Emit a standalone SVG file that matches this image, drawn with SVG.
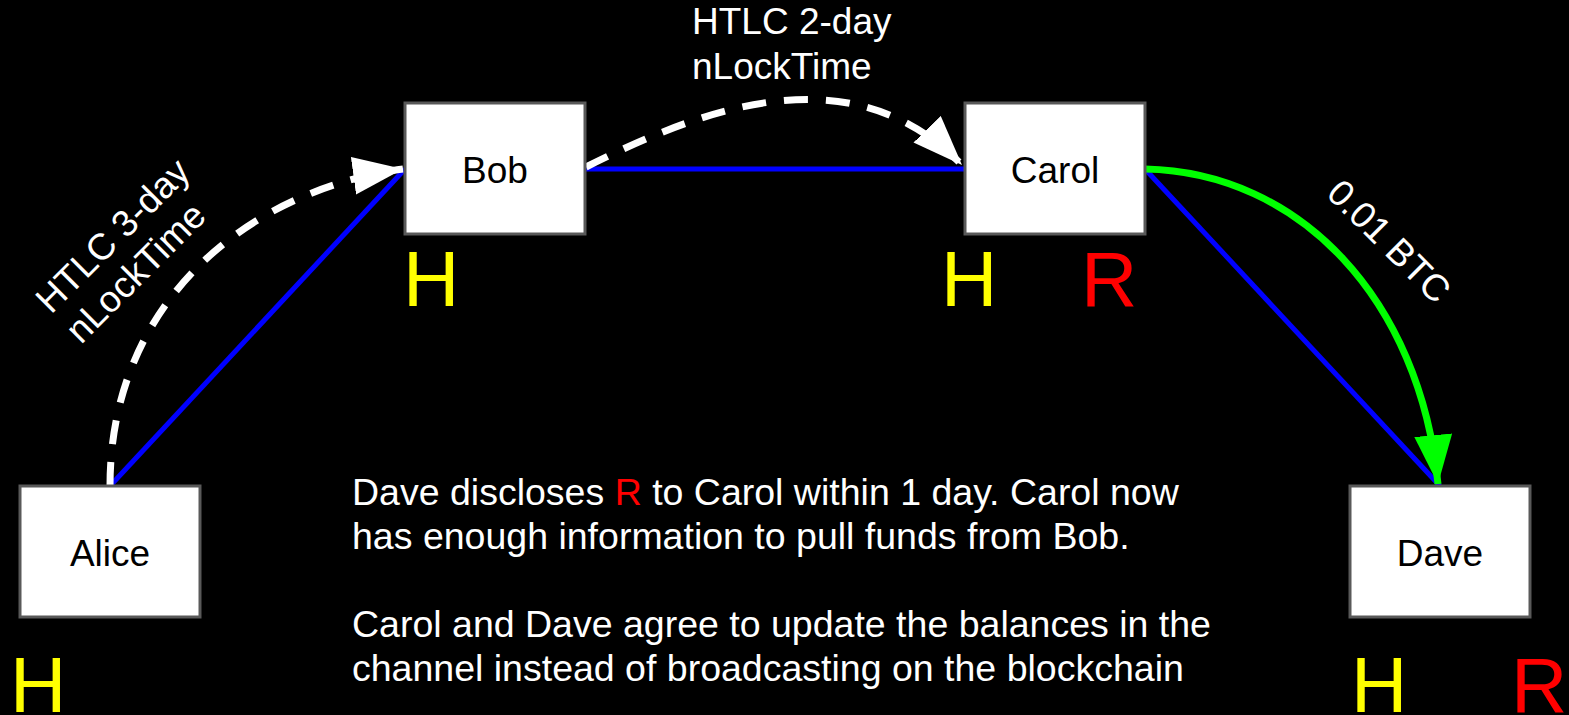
<svg xmlns="http://www.w3.org/2000/svg" width="1569" height="715" viewBox="0 0 1569 715">
<defs>
<style>
.box{fill:#fff;stroke:#595959;stroke-width:3}
.lbl{font-family:"Liberation Sans",Arial,sans-serif;font-size:37px;fill:#000;text-anchor:middle}
.wt{font-family:"Liberation Sans",Arial,sans-serif;font-size:37px;fill:#fff}
.nt{font-family:"Liberation Sans",Arial,sans-serif;font-size:37.5px;fill:#fff}
.big{font-family:"Liberation Sans",Arial,sans-serif;font-size:78px}
.blue{stroke:#0000ff;stroke-width:5;fill:none}
.dash{stroke:#fff;stroke-width:7;fill:none;stroke-dasharray:24,18}
</style>
<marker id="aw" markerUnits="userSpaceOnUse" markerWidth="56" markerHeight="44" refX="50" refY="19" orient="auto" viewBox="0 0 56 44"><path d="M0,0 L50,19 L0,38 Z" fill="#fff"/></marker>
<marker id="ag" markerUnits="userSpaceOnUse" markerWidth="56" markerHeight="44" refX="49" refY="19" orient="auto" viewBox="0 0 56 44"><path d="M0,0 L49,19 L0,38 Z" fill="#00ff00"/></marker>
</defs>
<rect width="1569" height="715" fill="#000"/>
<g id="connectors">
<line class="blue" x1="110" y1="486" x2="405" y2="169"/>
<line class="blue" x1="585" y1="169" x2="965" y2="169"/>
<line class="blue" x1="1145" y1="169" x2="1440" y2="486"/>
<path class="dash" d="M110,486 C110,300 250,190 403,169" marker-end="url(#aw)"/>
<path class="dash" d="M586,167 C700,110 850,50 962,165" marker-end="url(#aw)"/>
<path d="M1145,169 C1300,172 1420,300 1438,484" stroke="#00ff00" stroke-width="7" fill="none" marker-end="url(#ag)"/>
<text class="wt" transform="translate(51,315) rotate(-45)">HTLC 3-day</text>
<text class="wt" transform="translate(81,345) rotate(-45)">nLockTime</text>
<text class="wt" x="692" y="34">HTLC 2-day</text>
<text class="wt" x="692" y="79">nLockTime</text>
<text class="wt" transform="translate(1325,195) rotate(45)">0.01 BTC</text>
</g>
<g id="alice"><rect class="box" x="20" y="486" width="180" height="131"/><text class="lbl" x="110" y="566">Alice</text><text class="big" x="10" y="712" fill="#ffff00">H</text></g>
<g id="bob"><rect class="box" x="405" y="103" width="180" height="131"/><text class="lbl" x="495" y="183">Bob</text><text class="big" x="403" y="306" fill="#ffff00">H</text></g>
<g id="carol"><rect class="box" x="965" y="103" width="180" height="131"/><text class="lbl" x="1055" y="183">Carol</text><text class="big" x="941" y="306" fill="#ffff00">H</text><text class="big" x="1081" y="306" fill="#ff0000">R</text></g>
<g id="dave"><rect class="box" x="1350" y="486" width="180" height="131"/><text class="lbl" x="1440" y="566">Dave</text><text class="big" x="1351" y="712" fill="#ffff00">H</text><text class="big" x="1511" y="712" fill="#ff0000">R</text></g>
<g id="note">
<text class="nt" x="352" y="505">Dave discloses <tspan fill="#ff0000">R</tspan> to Carol within 1 day. Carol now</text>
<text class="nt" x="352" y="549">has enough information to pull funds from Bob.</text>
<text class="nt" x="352" y="637">Carol and Dave agree to update the balances in the</text>
<text class="nt" x="352" y="681">channel instead of broadcasting on the blockchain</text>
</g>
</svg>
